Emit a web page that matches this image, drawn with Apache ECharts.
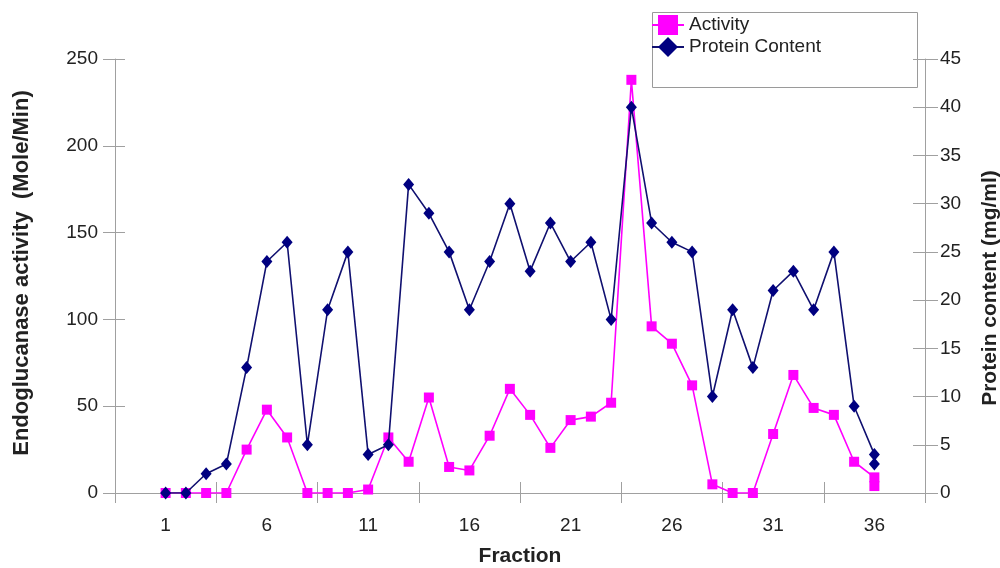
<!DOCTYPE html>
<html>
<head>
<meta charset="utf-8">
<script src="https://cdn.jsdelivr.net/npm/echarts@6/dist/echarts.min.js"></script>
<style>
  html, body { margin: 0; padding: 0; background: #fff; }
  #chart { width: 1000px; height: 568px; }
</style>
</head>
<body>
<div id="chart"></div>
<script>
// Fraction numbers (the last fraction was sampled twice)
const fractions = [1,2,3,4,5,6,7,8,9,10,11,12,13,14,15,16,17,18,19,20,21,22,23,24,25,26,27,28,29,30,31,32,33,34,35,36,36];
// Endoglucanase activity (Mole/Min) – left axis
const activity = [0,0,0,0,25,48,32,0,0,0,2,32,18,55,15,13,33,60,45,26,42,44,52,238,96,86,62,5,0,0,34,68,49,45,18,9,4];
// Protein content (mg/ml) – right axis
const protein = [0,0,2,3,13,24,26,5,19,25,4,5,32,29,25,19,24,30,23,28,24,26,18,40,28,26,25,10,19,13,21,23,19,25,9,4,3];
// Axis labels / ticks
const xLabelValues = [1,6,11,16,21,26,31,36];
const xTickValues = [-1.5,3.5,8.5,13.5,18.5,23.5,28.5,33.5,38.5];

const FONT = "'Liberation Sans', Arial, sans-serif";
const AXIS_COLOR = '#a0a0a0';
const TEXT_COLOR = '#222';

const actData = fractions.map((f, i) => [f, activity[i]]);
const proData = fractions.map((f, i) => [f, protein[i]]);

const chart = echarts.init(document.getElementById('chart'), null, { renderer: 'canvas' });

const gridRect = { left: 115, right: 75, top: 59, bottom: 75, containLabel: false, outerBoundsMode: 'none' };

chart.setOption({
  animation: false,
  backgroundColor: '#fff',
  textStyle: { fontFamily: FONT },
  grid: [Object.assign({}, gridRect), Object.assign({}, gridRect)],
  graphic: [{
    type: 'rect', z: 0,
    shape: { x: 652.5, y: 12.5, width: 265, height: 75 },
    style: { fill: '#fff', stroke: '#9a9a9a', lineWidth: 1 }
  }],
  legend: {
    orient: 'vertical', left: 651, top: 15, padding: 0,
    itemWidth: 32, itemHeight: 25, itemGap: 2,
    textStyle: { fontSize: 19, color: TEXT_COLOR, fontFamily: FONT },
    data: ['Activity', 'Protein Content']
  },
  xAxis: [
    {
      type: 'value', gridIndex: 0, min: -1.5, max: 38.5, splitLine: { show: false },
      name: 'Fraction', nameLocation: 'middle', nameGap: 53,
      nameTextStyle: { fontSize: 21, fontWeight: 'bold', color: TEXT_COLOR, fontFamily: FONT },
      axisLine: { show: true, onZero: false, lineStyle: { color: AXIS_COLOR, width: 1 } },
      axisTick: { show: true, length: 10, inside: false, customValues: xTickValues, lineStyle: { color: AXIS_COLOR } },
      axisLabel: { show: true, customValues: xLabelValues, margin: 23, fontSize: 19, color: TEXT_COLOR, fontFamily: FONT }
    },
    {
      type: 'value', gridIndex: 1, min: -1.5, max: 38.5, splitLine: { show: false },
      axisLine: { show: false, onZero: false },
      axisTick: { show: true, length: 11, inside: true, customValues: xTickValues, lineStyle: { color: AXIS_COLOR } },
      axisLabel: { show: false }
    }
  ],
  yAxis: [
    {
      type: 'value', gridIndex: 0, position: 'left', min: 0, max: 250, interval: 50,
      name: 'Endoglucanase activity  (Mole/Min)', nameLocation: 'middle', nameGap: 82, nameRotate: 90,
      nameTextStyle: { fontSize: 22, fontWeight: 'bold', color: TEXT_COLOR, fontFamily: FONT, padding: [0, 0, 0, 6] },
      splitLine: { show: false },
      axisLine: { show: true, onZero: false, lineStyle: { color: AXIS_COLOR, width: 1 } },
      axisTick: { show: true, length: 12, lineStyle: { color: AXIS_COLOR } },
      axisLabel: { margin: 17, fontSize: 19, color: TEXT_COLOR, fontFamily: FONT }
    },
    {
      type: 'value', gridIndex: 0, position: 'right', min: 0, max: 45, interval: 5,
      name: 'Protein content (mg/ml)', nameLocation: 'middle', nameGap: 55, nameRotate: 90,
      nameTextStyle: { fontSize: 21, fontWeight: 'bold', color: TEXT_COLOR, fontFamily: FONT, padding: [0, 24, 0, 0] },
      splitLine: { show: false },
      axisLine: { show: true, onZero: false, lineStyle: { color: AXIS_COLOR, width: 1 } },
      axisTick: { show: true, length: 13, lineStyle: { color: AXIS_COLOR } },
      axisLabel: { margin: 15, fontSize: 19, color: TEXT_COLOR, fontFamily: FONT }
    },
    {
      type: 'value', gridIndex: 1, position: 'left', min: 0, max: 250, interval: 50,
      splitLine: { show: false }, axisLine: { show: false, onZero: false }, axisLabel: { show: false },
      axisTick: { show: true, inside: true, length: 10, lineStyle: { color: AXIS_COLOR } }
    },
    {
      type: 'value', gridIndex: 1, position: 'right', min: 0, max: 45, interval: 5,
      splitLine: { show: false }, axisLine: { show: false, onZero: false }, axisLabel: { show: false },
      axisTick: { show: true, inside: true, length: 12, lineStyle: { color: AXIS_COLOR } }
    }
  ],
  series: [
    {
      name: 'Activity', type: 'line', xAxisIndex: 0, yAxisIndex: 0,
      data: actData,
      symbol: 'rect', symbolSize: 10,
      lineStyle: { color: '#ff00ff', width: 1.6 },
      itemStyle: { color: '#ff00ff', borderWidth: 0 },
      z: 3
    },
    {
      name: 'Protein Content', type: 'line', xAxisIndex: 0, yAxisIndex: 1,
      data: proData,
      symbol: 'diamond', symbolSize: [11, 13],
      lineStyle: { color: '#101070', width: 1.6 },
      itemStyle: { color: '#000080', borderWidth: 0 },
      z: 4
    }
  ]
});
</script>
</body>
</html>
